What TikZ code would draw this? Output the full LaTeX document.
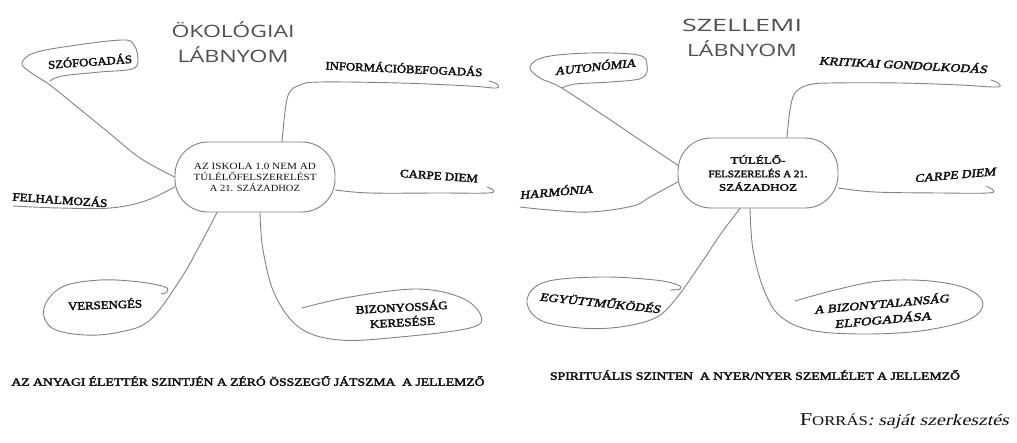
\documentclass[tikz,border=0pt]{standalone}
\usepackage{fontspec}
\usepackage{graphicx}
\setmainfont{Liberation Serif}[
  BoldFont=Liberation Serif, BoldFeatures={FakeBold=2.6},
  ItalicFont=Liberation Serif, ItalicFeatures={FakeSlant=0.2},
  BoldItalicFont=Liberation Serif, BoldItalicFeatures={FakeBold=2.6,FakeSlant=0.2}]
\newfontfamily\handfont{Open Sans}
\newcommand\myfit[2]{\resizebox{#1pt}{\height}{#2}}
\definecolor{br}{RGB}{130,130,130}
\definecolor{tx}{RGB}{15,15,15}
\definecolor{titlec}{RGB}{80,80,80}
\tikzset{
  branch/.style={draw=br, line width=0.9pt, line cap=round, line join=round},
  lab/.style={font=\fontsize{11.5}{15}\selectfont\bfseries, text=tx, inner sep=0pt, align=center},
  ilab/.style={font=\fontsize{11.5}{15}\selectfont\bfseries\itshape, text=tx, inner sep=0pt, align=center},
  hub/.style={draw=br, line width=0.9pt, rounded corners=33pt, minimum width=160pt, minimum height=70pt, align=center, inner sep=0pt, text=tx},
  ttl/.style={font=\handfont\fontsize{17}{25}\selectfont, text=titlec, align=center, inner sep=0pt},
  foot/.style={font=\fontsize{11}{12}\selectfont\bfseries, text=tx, inner sep=0pt}
}
\begin{document}
\begin{tikzpicture}[x=1pt,y=-1pt]
\useasboundingbox[fill=white] (0,0) rectangle (1017,442);

% ---------- left map ----------
\node[ttl] (t1) at (233,42) {\myfit{123}{ÖKOLÓGIAI}\\\myfit{111}{LÁBNYOM}};
\node[hub, font=\fontsize{9.5}{11}\selectfont] (c1) at (255,177)
  {\myfit{122}{AZ ISKOLA 1.0 NEM AD}\\\myfit{123}{TÚLÉLŐFELSZERELÉST}\\\myfit{90}{A 21. SZÁZADHOZ}};

\node[lab, rotate=4]  (s1) at (90,61)  {\myfit{84}{SZÓFOGADÁS}};
\node[lab, rotate=-2.5] (s2) at (404,68) {\myfit{157}{INFORMÁCIÓBEFOGADÁS}};
\node[lab, rotate=-4] (s3) at (439,176) {\myfit{78}{CARPE DIEM}};
\node[lab, rotate=-4] (s4) at (60,199) {\myfit{95}{FELHALMOZÁS}};
\node[lab, rotate=2]  (s5) at (105,304) {\myfit{74}{VERSENGÉS}};
\node[lab, rotate=3]  (s6) at (402,314) {\myfit{92}{BIZONYOSSÁG}\\\myfit{65}{KERESÉSE}};

\draw[branch] plot[smooth, tension=0.6] coordinates {(c1.west) (140,158) (108,132) (76,106) (50,85) (30,72) (22,63) (34,53) (70,46) (122,40) (134,45) (138,60) (132,69) (100,72) (62,76) (50,81)};
\draw[branch] plot[smooth, tension=0.6] coordinates {([xshift=27pt]c1.north) (285,112) (289,93) (300,85) (320,82) (400,83) (470,86) (496,88) (497,84) (489,81)};
\draw[branch] plot[smooth, tension=0.6] coordinates {([yshift=-13pt]c1.east) (370,193) (440,193) (488,193) (493,190) (487,187)};
\draw[branch] plot[smooth, tension=0.6] coordinates {([yshift=-10pt]c1.west) (145,201) (110,208) (60,208) (13,206)};
\draw[branch] plot[smooth, tension=0.6] coordinates {([xshift=-38pt]c1.south) (200,245) (180,280) (150,320) (120,332) (85,335) (52,328) (44,308) (62,287) (100,280) (140,282) (165,287) (167,292) (161,294)};
\draw[branch] plot[smooth, tension=0.6] coordinates {([xshift=5pt]c1.south) (263,250) (275,295) (300,328) (340,340) (400,337) (470,328) (481,316) (462,298) (417,289) (350,297) (302,308)};

\node[foot] (f1) at (248,381) {\myfit{473}{AZ ANYAGI ÉLETTÉR SZINTJÉN A ZÉRÓ ÖSSZEGŰ JÁTSZMA\ \ A JELLEMZŐ}};

% ---------- right map ----------
\node[ttl] (t2) at (742,38) {\myfit{120}{SZELLEMI}\\\myfit{110}{LÁBNYOM}};
\node[hub, font=\fontsize{10}{13.5}\selectfont\bfseries] (c2) at (758,173)
  {\myfit{55}{TÚLÉLŐ-}\\\myfit{99}{FELSZERELÉS A 21.}\\\myfit{78}{SZÁZADHOZ}};

\node[ilab, rotate=6]  (r1) at (595,66)  {\myfit{81}{AUTONÓMIA}};
\node[ilab, rotate=-3] (r2) at (903,64)  {\myfit{168}{KRITIKAI GONDOLKODÁS}};
\node[ilab, rotate=5]  (r3) at (955,175) {\myfit{81}{CARPE DIEM}};
\node[ilab, rotate=5]  (r4) at (556,191) {\myfit{73}{HARMÓNIA}};
\node[ilab, rotate=-6] (r5) at (600,302) {\myfit{121}{EGYÜTTMŰKÖDÉS}};
\node[ilab, rotate=5, font=\fontsize{11.5}{16}\selectfont\bfseries\itshape] (r6) at (882,311) {\myfit{135}{A BIZONYTALANSÁG}\\\myfit{97}{ELFOGADÁSA}};

\draw[branch] plot[smooth, tension=0.6] coordinates {([yshift=8pt]c2.west) (640,140) (600,113) (560,87) (540,78) (530,67) (545,57) (590,53) (638,55) (647,65) (642,78) (610,82) (575,84) (562,88)};
\draw[branch] plot[smooth, tension=0.6] coordinates {([xshift=29pt]c2.north) (790,110) (795,93) (808,85) (830,83) (900,83) (960,85) (997,87) (998,83) (991,80)};
\draw[branch] plot[smooth, tension=0.6] coordinates {([yshift=-15pt]c2.east) (875,192) (940,193) (988,193) (993,190) (986,186)};
\draw[branch] plot[smooth, tension=0.6] coordinates {([yshift=-9pt]c2.west) (650,197) (633,206) (590,212) (550,210) (520,207)};
\draw[branch] plot[smooth, tension=0.6] coordinates {([xshift=-18pt]c2.south) (720,235) (700,265) (675,300) (655,318) (620,327) (580,328) (540,320) (527,300) (545,282) (600,277) (655,280) (678,285) (680,289) (670,290)};
\draw[branch] plot[smooth, tension=0.6] coordinates {([xshift=-8pt]c2.south) (753,250) (764,290) (780,316) (810,330) (860,334) (920,331) (968,320) (983,304) (968,289) (930,281) (880,281) (835,290) (795,301)};

\node[foot] (f2) at (755,375) {\myfit{410}{SPIRITUÁLIS SZINTEN\ \ A NYER/NYER SZEMLÉLET A JELLEMZŐ}};

\node[inner sep=0pt, text=tx, anchor=east] (src) at (1009,421)
  {\myfit{209}{{\fontsize{18}{18}\selectfont F}{\fontsize{13.5}{14}\selectfont ORRÁS}{\itshape\fontsize{16}{16}\selectfont : saját szerkesztés}}};
\end{tikzpicture}
\end{document}
